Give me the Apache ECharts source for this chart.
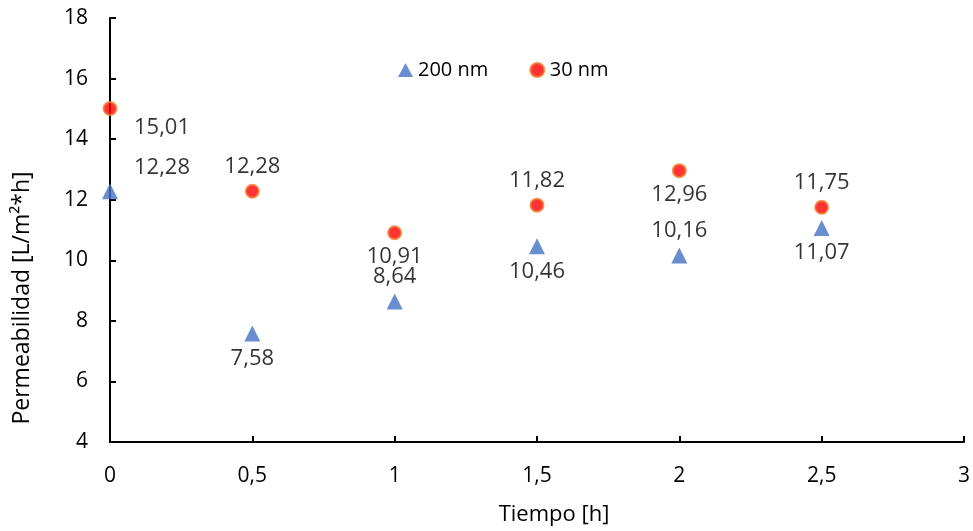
<!DOCTYPE html>
<html><head><meta charset="utf-8">
<script src="https://cdn.jsdelivr.net/npm/echarts@6/dist/echarts.min.js"></script>
<style>html,body{margin:0;padding:0;background:#fff}#c{width:973px;height:531px}</style>
</head><body><div id="c"></div>
<script>
const times = [0, 0.5, 1, 1.5, 2, 2.5];
const s200 = [12.28, 7.58, 8.64, 10.46, 10.16, 11.07];
const s30 = [15.01, 12.28, 10.91, 11.82, 12.96, 11.75];
const labels200 = ['12,28', '7,58', '8,64', '10,46', '10,16', '11,07'];
const labels30 = ['15,01', '12,28', '10,91', '11,82', '12,96', '11,75'];
const place200 = ['upright', 'bottom', 'top', 'bottom', 'top', 'bottom'];
const place30 = ['downright', 'top', 'bottom', 'top', 'bottom', 'top'];
const FONT = '"Open Sans", sans-serif';

function mk(vals, labs, places) {
  return vals.map((v, i) => {
    const p = places[i];
    let lab;
    if (p === 'upright') lab = {position: 'inside', offset: [52, -23]};
    else if (p === 'downright') lab = {position: 'inside', offset: [52, 19]};
    else lab = {position: p, distance: 6};
    lab.formatter = labs[i];
    return {value: [times[i], v], label: lab};
  });
}

const chart = echarts.init(document.getElementById('c'));
chart.setOption({
  animation: false,
  textStyle: {fontFamily: FONT},
  grid: {left: 110, right: 9, top: 18, bottom: 87, containLabel: false},
  legend: {
    left: 393, top: 55, itemGap: 41, itemWidth: 15, itemHeight: 14,
    textStyle: {fontFamily: FONT, fontSize: 20, color: '#000'},
    data: ['200 nm', '30 nm']
  },
  xAxis: {
    type: 'value', min: 0, max: 3, interval: 0.5,
    name: 'Tiempo [h]', nameLocation: 'middle', nameGap: 62,
    nameTextStyle: {fontFamily: FONT, fontSize: 22, color: '#000', padding: [0, 0, 0, 34]},
    axisLine: {lineStyle: {color: '#000', width: 2}},
    axisTick: {inside: true, length: 6, lineStyle: {color: '#000', width: 2}},
    axisLabel: {margin: 24, fontSize: 21, color: '#000', fontFamily: FONT,
      formatter: v => String(v).replace('.', ',')},
    splitLine: {show: false}
  },
  yAxis: {
    type: 'value', min: 4, max: 18, interval: 2,
    name: 'Permeabilidad [L/m²*h]', nameLocation: 'middle', nameGap: 76,
    nameTextStyle: {fontFamily: FONT, fontSize: 23, color: '#000', padding: [0, 136, 0, 0]},
    axisLine: {show: true, lineStyle: {color: '#000', width: 2}},
    axisTick: {show: true, inside: true, length: 6, lineStyle: {color: '#000', width: 2}},
    axisLabel: {margin: 22, fontSize: 21, color: '#000', fontFamily: FONT},
    splitLine: {show: false}
  },
  series: [
    {
      name: '200 nm', type: 'scatter', symbol: 'triangle', symbolSize: 16,
      itemStyle: {color: '#4472C4'},
      label: {show: true, fontSize: 22, color: '#000', fontFamily: FONT},
      data: mk(s200, labels200, place200)
    },
    {
      name: '30 nm', type: 'scatter', symbol: 'circle', symbolSize: 13,
      itemStyle: {color: '#FF0000', borderColor: '#F08030', borderWidth: 2},
      label: {show: true, fontSize: 22, color: '#000', fontFamily: FONT},
      data: mk(s30, labels30, place30)
    }
  ]
});
</script></body></html>
